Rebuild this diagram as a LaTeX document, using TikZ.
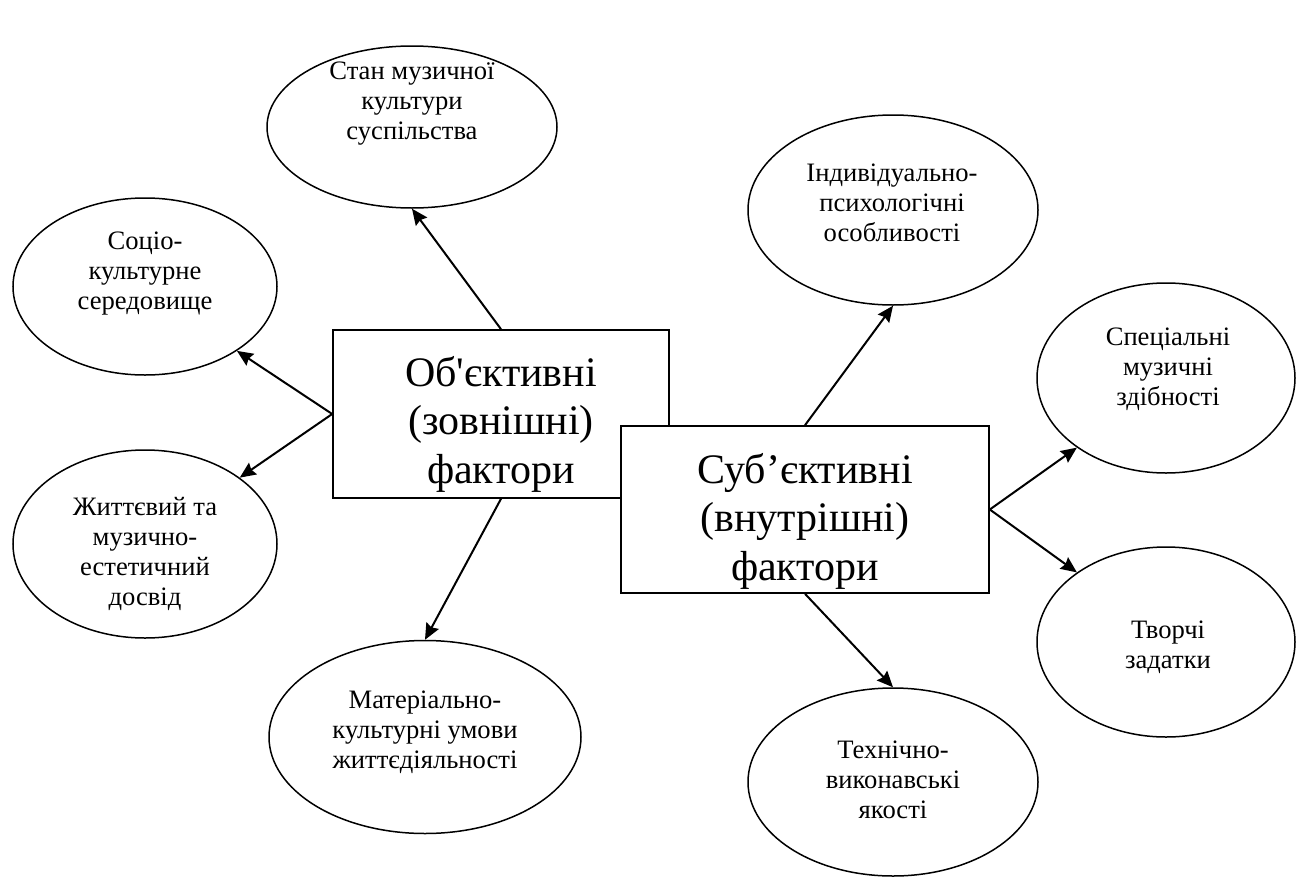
\documentclass[tikz,border=0pt]{standalone}
\usepackage{fontspec}
\setmainfont{Liberation Serif}
\usetikzlibrary{arrows.meta, shapes.geometric, positioning}

\begin{document}
\begin{tikzpicture}[x=0.5pt, y=-0.5pt, >={Stealth[length=8pt, width=7pt, inset=1pt]},
        oval/.style={draw, ellipse, line width=0.75pt, inner sep=0pt},
        ovaltext/.style={align=center, font=\fontsize{13.3}{15}\selectfont},
        factor/.style={draw, fill=white, line width=0.8pt, inner sep=0pt},
        factortext/.style={align=center, font=\fontsize{21}{24.25}\selectfont},
        link/.style={->, line width=1pt}]
        \useasboundingbox (0,0) rectangle (1296,878);
        \node[factor, minimum width=168pt, minimum height=84pt] (obj) at (501,414) {};
        \node[factortext] (obj-t) at (501,424) {Об\textquotesingle єктивні\\(зовнішні)\\фактори};
        \node[factor, minimum width=184pt, minimum height=83.5pt] (subj) at (805,509.5) {};
        \node[factortext] (subj-t) at (805,521) {Суб’єктивні\\(внутрішні)\\фактори};
        \node[oval, minimum width=145pt, minimum height=81pt] (stan) at (412,127) {};
        \node[ovaltext] (stan-t) at (412,104) {Стан музичної\\культури\\суспільства};
        \node[oval, minimum width=132pt, minimum height=88.5pt] (socio) at (145,286.5) {};
        \node[ovaltext] (socio-t) at (145,274) {Соціо-\\культурне\\середовище};
        \node[oval, minimum width=132pt, minimum height=94pt] (dosvid) at (145,544) {};
        \node[ovaltext] (dosvid-t) at (145,554) {Життєвий та\\музично-\\естетичний\\досвід};
        \node[oval, minimum width=156pt, minimum height=96.5pt] (umovy) at (425,737) {};
        \node[ovaltext] (umovy-t) at (425,732) {Матеріально-\\культурні умови\\життєдіяльності};
        \node[oval, minimum width=145pt, minimum height=95pt] (indyv) at (893,210) {};
        \node[ovaltext] (indyv-t) at (892,203) {Індивідуально-\\психологічні\\особливості};
        \node[oval, minimum width=129pt, minimum height=95pt] (zdibn) at (1166,378) {};
        \node[ovaltext] (zdibn-t) at (1168,369) {Спеціальні\\музичні\\здібності};
        \node[oval, minimum width=129pt, minimum height=95pt] (zadatky) at (1166,642) {};
        \node[ovaltext] (zadatky-t) at (1168,647) {Творчі\\задатки};
        \node[oval, minimum width=145pt, minimum height=94pt] (yakosti) at (893,782) {};
        \node[ovaltext] (yakosti-t) at (893,780) {Технічно-\\виконавські\\якості};
        \draw[link] (obj.north) -- (stan.south);
        \draw[link] (obj.west) -- (socio.325);
        \draw[link] (obj.west) -- (dosvid.35);
        \draw[link] (obj.south) -- (umovy.north);
        \draw[link] (subj.north) -- (indyv.south);
        \draw[link] (subj.east) -- (zdibn.218);
        \draw[link] (subj.east) -- (zadatky.142);
        \draw[link] (subj.south) -- (yakosti.north);
    \end{tikzpicture}
\end{document}
